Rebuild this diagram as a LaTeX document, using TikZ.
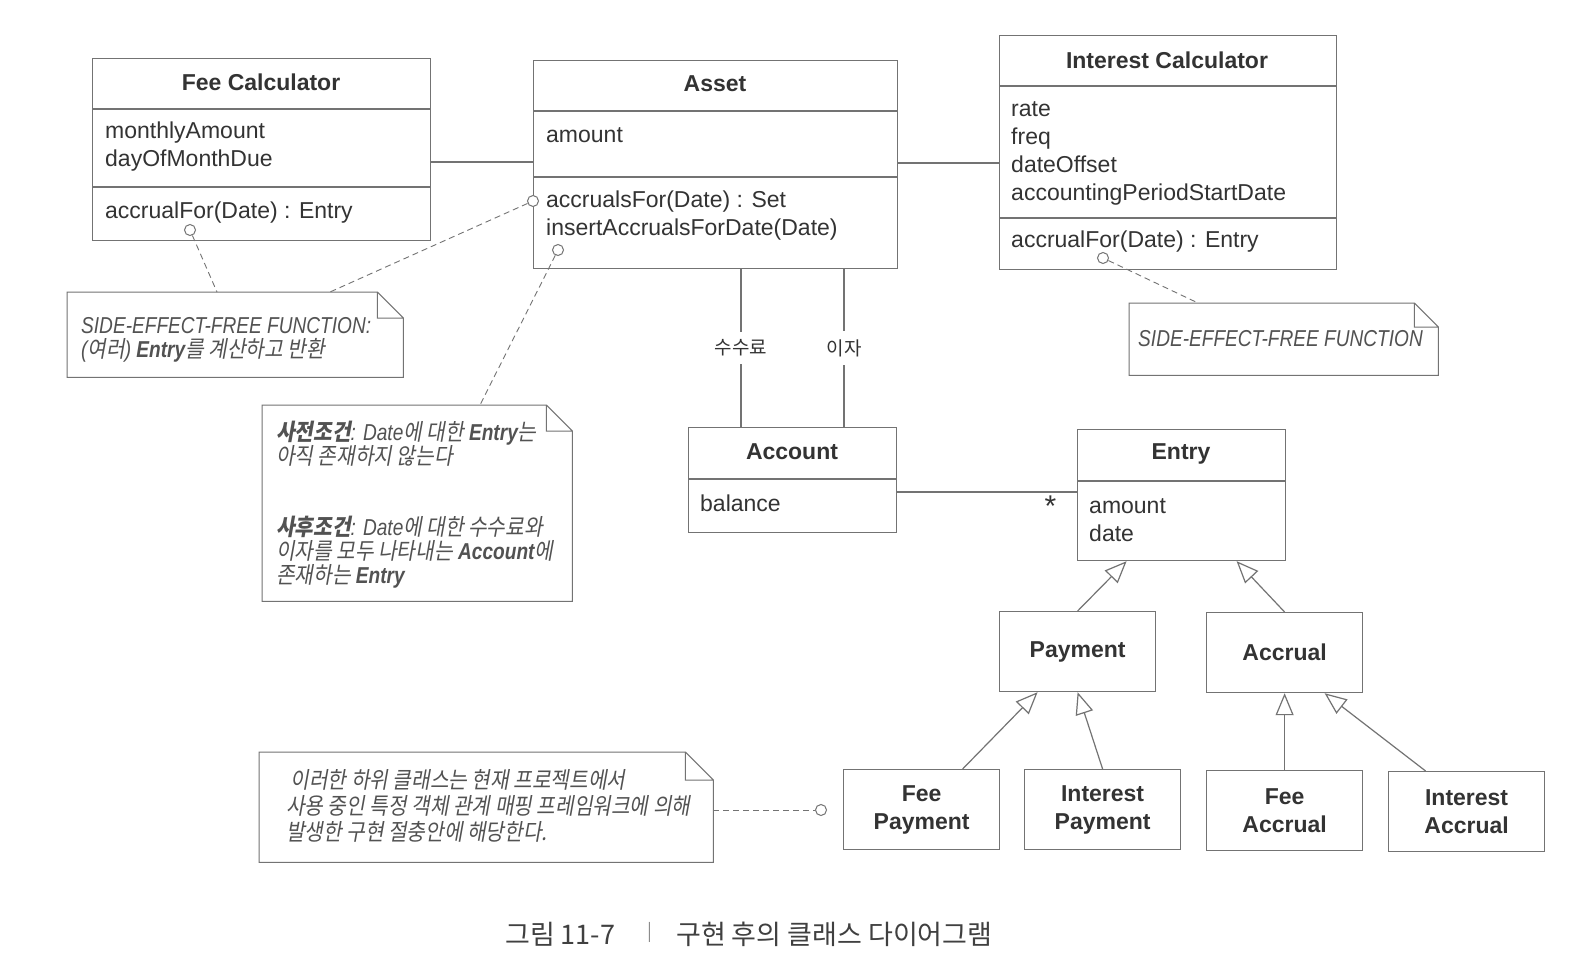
\documentclass[tikz,border=0pt]{standalone}
\usepackage{fontspec}
\setmainfont{Liberation Sans}
\newfontfamily\krfont{Noto Sans CJK KR}
\newfontfamily\krnote{Noto Sans CJK KR}[FakeStretch=0.88,FakeSlant=0.18]
\newfontfamily\ennote{Liberation Sans}[FakeStretch=0.83]
\usetikzlibrary{arrows.meta,positioning}
\definecolor{linecol}{gray}{0.45}
\definecolor{inkcol}{gray}{0.2}
\definecolor{notecol}{gray}{0.32}
\newcommand{\kn}[1]{{\krnote\upshape #1}}
\newcommand{\clsfont}{\fontsize{23}{28}\selectfont}
\tikzset{
    classbox/.style={rectangle,draw=linecol,line width=1.2pt,anchor=north west,inner sep=0pt},
    classname/.style={font=\clsfont\bfseries,text=inkcol,inner sep=0pt},
    members/.style={font=\clsfont,text=inkcol,align=left,anchor=west,inner sep=0pt},
    subclass/.style={classbox,minimum width=156pt,minimum height=80pt,font=\clsfont\bfseries,text=inkcol,align=center},
    divider/.style={draw=linecol,line width=1.2pt},
    assoc/.style={draw=linecol,line width=1.2pt},
    inherit/.style={draw=linecol,line width=1.2pt,-{Triangle[open,length=22pt,width=18pt,line width=1.2pt]}},
    rolelabel/.style={font=\krfont\fontsize{19}{22}\selectfont,text=inkcol,fill=white,inner xsep=2pt,inner ysep=8pt},
    multiplicity/.style={font=\fontsize{30}{30}\selectfont,text=inkcol,inner sep=0pt},
    noteframe/.style={rectangle,draw=none,anchor=north west,inner sep=0pt},
    noteline/.style={draw=linecol,line width=1pt,line join=miter},
    notetext/.style={font=\ennote\itshape\fontsize{23}{24}\selectfont,text=notecol,align=left,anchor=west,inner sep=0pt},
    notekr/.style={notetext,font=\krnote\fontsize{23}{26}\selectfont},
    anchorpin/.style={circle,draw=linecol,fill=white,line width=1pt,minimum size=11pt,inner sep=0pt},
    attach/.style={draw=linecol,line width=0.9pt,dash pattern=on 6pt off 4pt},
    caption/.style={font=\krfont\fontsize{27}{32}\selectfont,text=black!75,inner sep=0pt},
}

\begin{document}
\begin{tikzpicture}[x=1pt,y=-1pt]
    \path[use as bounding box,fill=white] (0,0) rectangle (1578,976);

    % Fee Calculator
    \node[classbox,minimum width=338pt,minimum height=182pt] (fee) at (92,58) {};
    \draw[divider] (fee.west |- 0,109) -- (fee.east |- 0,109);
    \draw[divider] (fee.west |- 0,187) -- (fee.east |- 0,187);
    \node[classname] (fee-name) at (261,82) {Fee Calculator};
    \node[members] (fee-attr) at (105,147) {monthlyAmount\\dayOfMonthDue};
    \node[members] (fee-op) at (105,213) {accrualFor(Date) : Entry};

    % Asset
    \node[classbox,minimum width=364pt,minimum height=208pt] (asset) at (533,60) {};
    \draw[divider] (asset.west |- 0,111) -- (asset.east |- 0,111);
    \draw[divider] (asset.west |- 0,177) -- (asset.east |- 0,177);
    \node[classname] (asset-name) at (715,84) {Asset};
    \node[members] (asset-attr) at (546,135) {amount};
    \node[members] (asset-op) at (546,216) {accrualsFor(Date) : Set\\insertAccrualsForDate(Date)};

    % Interest Calculator
    \node[classbox,minimum width=337pt,minimum height=234pt] (intcalc) at (999,35) {};
    \draw[divider] (intcalc.west |- 0,86) -- (intcalc.east |- 0,86);
    \draw[divider] (intcalc.west |- 0,218) -- (intcalc.east |- 0,218);
    \node[classname] (intcalc-name) at (1167,60) {Interest Calculator};
    \node[members] (intcalc-attr) at (1011,153) {rate\\freq\\dateOffset\\accountingPeriodStartDate};
    \node[members] (intcalc-op) at (1011,242) {accrualFor(Date) : Entry};

    % Account
    \node[classbox,minimum width=208pt,minimum height=105pt] (account) at (688,427) {};
    \draw[divider] (account.west |- 0,479) -- (account.east |- 0,479);
    \node[classname] (account-name) at (792,452) {Account};
    \node[members] (account-attr) at (700,503) {balance};

    % Entry
    \node[classbox,minimum width=208pt,minimum height=131pt] (entry) at (1077,429) {};
    \draw[divider] (entry.west |- 0,481) -- (entry.east |- 0,481);
    \node[classname] (entry-name) at (1181,454) {Entry};
    \node[members] (entry-attr) at (1089,520) {amount\\date};

    % subclasses
    \node[subclass] (payment) at (999,611) {Payment};
    \node[subclass] (accrual) at (1206,612) {Accrual};
    \node[subclass] (feepay) at (843,769) {Fee\\Payment};
    \node[subclass] (intpay) at (1024,769) {Interest\\Payment};
    \node[subclass] (feeacc) at (1206,770) {Fee\\Accrual};
    \node[subclass] (intacc) at (1388,771) {Interest\\Accrual};

    % associations
    \draw[assoc] (fee.east |- 0,162) -- (asset.west |- 0,162);
    \draw[assoc] (asset.east |- 0,163) -- (intcalc.west |- 0,163);
    \coordinate (fee-role) at ([xshift=53pt]account.north west);
    \coordinate (int-role) at ([xshift=156pt]account.north west);
    \draw[assoc] (asset.south -| fee-role) -- node[rolelabel] {수수료} (fee-role);
    \draw[assoc] (asset.south -| int-role) -- node[rolelabel] {이자} (int-role);
    \draw[assoc] (account.east |- 0,492) -- (entry.west |- 0,492)
        node[multiplicity,below left=3pt and 20pt] {*};

    % generalizations
    \draw[inherit] (payment.north) -- ([xshift=-55pt]entry.south);
    \draw[inherit] (accrual.north) -- ([xshift=55pt]entry.south);
    \draw[inherit] ([xshift=41pt]feepay.north) -- ([xshift=-40pt]payment.south);
    \draw[inherit] (intpay.north) -- (payment.south);
    \draw[inherit] (feeacc.north) -- (accrual.south);
    \draw[inherit] ([xshift=-41pt]intacc.north) -- ([xshift=40pt]accrual.south);

    % notes
    \node[noteframe,minimum width=336pt,minimum height=85pt] (note1) at (67,292) {};
    \node[noteframe,minimum width=310pt,minimum height=196pt] (note2) at (262,405) {};
    \node[noteframe,minimum width=309pt,minimum height=72pt] (note3) at (1129,303) {};
    \node[noteframe,minimum width=454pt,minimum height=110pt] (note4) at (259,752) {};
    \foreach \n/\f in {note1/26,note2/26,note3/24,note4/28}
        \draw[noteline] (\n.north west) -- ([xshift=-\f pt]\n.north east) -- ([yshift=-\f pt]\n.north east)
            -- (\n.south east) -- (\n.south west) -- cycle
            ([xshift=-\f pt]\n.north east) |- ([yshift=-\f pt]\n.north east);

    \node[notetext] (note1-text) at (81,340) {SIDE-EFFECT-FREE FUNCTION:\\(\kn{여러}) \textbf{Entry}\kn{를 계산하고 반환}};
    \node[notetext] (note2-text) at (276,505) {\textbf{\kn{사전조건}}: Date\kn{에 대한} \textbf{Entry}\kn{는}\\
        \kn{아직 존재하지 않는다}\\[47pt]
        \textbf{\kn{사후조건}}: Date\kn{에 대한 수수료와}\\
        \kn{이자를 모두 나타내는} \textbf{Account}\kn{에}\\
        \kn{존재하는} \textbf{Entry}};
    \node[notetext] (note3-text) at (1138,339) {SIDE-EFFECT-FREE FUNCTION};
    \node[notekr] (note4-text) at (286,806) {\ 이러한 하위 클래스는 현재 프로젝트에서\\사용 중인 특정 객체 관계 매핑 프레임워크에 의해\\발생한 구현 절충안에 해당한다.};

    % note attachments
    \node[anchorpin] (pin-fee) at (190,230) {};
    \node[anchorpin] (pin-accruals) at (asset.west |- 0,201) {};
    \node[anchorpin] (pin-insert) at (558,250) {};
    \node[anchorpin] (pin-intcalc) at (1103,258) {};
    \node[anchorpin] (pin-sub) at (821,810) {};
    \draw[attach] (pin-fee) -- (note1.north -| 217,0);
    \draw[attach] (pin-accruals) -- (note1.north -| 330,0);
    \draw[attach] (pin-insert) -- (note2.north -| 480,0);
    \draw[attach] (pin-intcalc) -- (note3.north -| 1198,0);
    \draw[attach] (note4.east |- pin-sub) -- (pin-sub);

    % caption
    \node[caption,anchor=west] (cap-num) at (505,934) {그림 11-7};
    \node[caption,font=\krfont\fontsize{18}{20}\selectfont,text=black!45] (cap-bar) at (650,932) {|};
    \node[caption,anchor=west] (cap-title) at (676,934) {구현 후의 클래스 다이어그램};
\end{tikzpicture}
\end{document}
